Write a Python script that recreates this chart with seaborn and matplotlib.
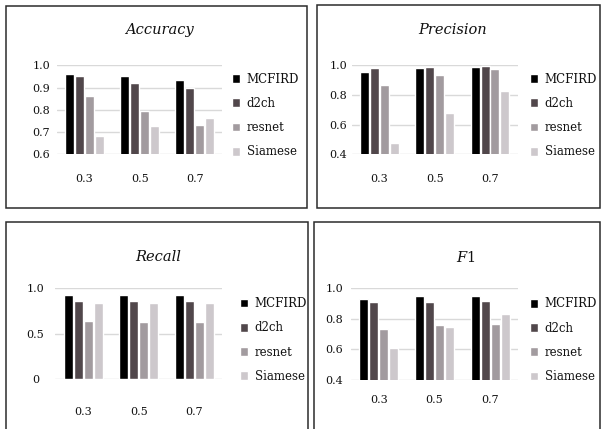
import matplotlib
matplotlib.use("Agg")
import matplotlib.pyplot as plt
import matplotlib.patches as mpatches
import seaborn as sns
import pandas as pd

sns.set_theme(style="white")
plt.rcParams['font.family'] = ['DejaVu Serif']
plt.rcParams['mathtext.fontset'] = 'dejavuserif'

thresholds = ["0.3", "0.5", "0.7"]
models = ["MCFIRD", "d2ch", "resnet", "Siamese"]
colors = ["#000000", "#51474b", "#a29b9f", "#cdc8cc"]

accuracy = {"MCFIRD": [0.961, 0.951, 0.936], "d2ch": [0.951, 0.921, 0.896],
            "resnet": [0.860, 0.796, 0.730], "Siamese": [0.681, 0.725, 0.764]}
precision = {"MCFIRD": [0.953, 0.980, 0.989], "d2ch": [0.980, 0.989, 0.997],
             "resnet": [0.867, 0.935, 0.973], "Siamese": [0.474, 0.676, 0.829]}
recall = {"MCFIRD": [0.930, 0.930, 0.930], "d2ch": [0.857, 0.857, 0.857],
          "resnet": [0.643, 0.632, 0.632], "Siamese": [0.842, 0.842, 0.842]}
f1 = {"MCFIRD": [0.933, 0.950, 0.950], "d2ch": [0.911, 0.911, 0.920],
      "resnet": [0.735, 0.759, 0.765], "Siamese": [0.611, 0.748, 0.830]}

titles = ["Accuracy", "Precision", "Recall", "$F1$"]
datasets = [accuracy, precision, recall, f1]
yticks = [[0.6, 0.7, 0.8, 0.9, 1.0], [0.4, 0.6, 0.8, 1.0], [0, 0.5, 1.0], [0.4, 0.6, 0.8, 1.0]]
ylabels = [["0.6", "0.7", "0.8", "0.9", "1.0"], ["0.4", "0.6", "0.8", "1.0"],
           ["0", "0.5", "1.0"], ["0.4", "0.6", "0.8", "1.0"]]

W, H = 602, 429
fig = plt.figure(figsize=(W / 100, H / 100), dpi=100)

# layout in pixels (left, top, right, bottom)
axes_px = [(57, 65.3, 222.4, 154.3), (352, 65.3, 517.6, 154.3),
           (55.5, 288.3, 222, 379), (351, 288.3, 518, 380)]
title_px = [(159, 30), (453, 30), (158, 257), (466, 258)]
legend_px = [(231.5, 115.5), (529.5, 115.5), (239.5, 340), (529.5, 340.3)]
xpad = [14.5, 14.5, 20.5, 11.0]
ypad = [5.0, 3.5, 14.5, 5.5]
boxes = [(6, 6, 307, 208), (317, 5, 600, 208), (6, 222, 308, 432), (314, 222, 600, 432)]

for (l, t, r, b) in boxes:
    fig.patches.append(mpatches.Rectangle((l / W, 1 - b / H), (r - l) / W, (b - t) / H,
                                          fill=False, edgecolor="#2b2b2b", linewidth=1.1,
                                          transform=fig.transFigure, figure=fig))

for i in range(4):
    l, t, r, b = axes_px[i]
    ax = fig.add_axes([l / W, 1 - b / H, (r - l) / W, (b - t) / H])
    ax.set_axisbelow(True)
    d = datasets[i]
    df = pd.DataFrame({
        "threshold": [th for m in models for th in thresholds],
        "model": [m for m in models for _ in thresholds],
        "value": [v for m in models for v in d[m]],
    })
    sns.barplot(data=df, x="threshold", y="value", hue="model", order=thresholds,
                hue_order=models, palette=colors, saturation=1, width=0.72, gap=0.1,
                ax=ax, errorbar=None, zorder=3)
    ax.set_xlim(-0.5, 2.5)
    ax.set_ylim(yticks[i][0], yticks[i][-1])
    ax.set_yticks(yticks[i])
    ax.set_yticklabels(ylabels[i])
    ax.set_xlabel("")
    ax.set_ylabel("")
    ax.yaxis.grid(True, color="#d9d9d9", linewidth=1.0, zorder=0)
    for s in ax.spines.values():
        s.set_visible(False)
    ax.tick_params(axis="x", length=0, pad=xpad[i], labelsize=8, colors="#111111")
    ax.tick_params(axis="y", length=0, pad=ypad[i], labelsize=8, colors="#111111")
    if i == 2:
        for lab in ax.get_yticklabels():
            lab.set_ha("center")
    lx, ly = legend_px[i]
    sns.move_legend(ax, "center left", bbox_to_anchor=(lx / W, 1 - ly / H),
                    bbox_transform=fig.transFigure, frameon=False, title=None,
                    fontsize=8.5, handlelength=0.75, handleheight=0.75, handletextpad=0.55,
                    labelspacing=0.95, borderpad=0, borderaxespad=0)
    leg = ax.get_legend()
    for txt in leg.get_texts():
        txt.set_color("#111111")
    tx, ty = title_px[i]
    fig.text(tx / W, 1 - ty / H, titles[i], ha="center", va="center",
             fontsize=10.5, style="italic", color="#111111")

fig.savefig("out.png", dpi=100)
